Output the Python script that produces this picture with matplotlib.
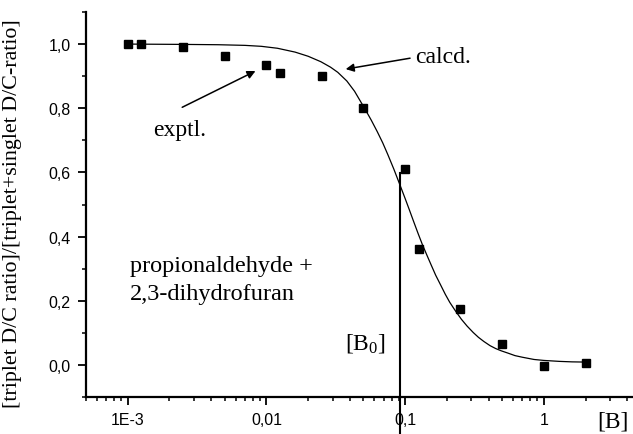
import matplotlib
matplotlib.use('Agg')
import matplotlib.pyplot as plt
from matplotlib.ticker import FixedLocator, LogLocator, MultipleLocator, NullFormatter

plt.rcParams['mathtext.fontset'] = 'custom'
plt.rcParams['mathtext.rm'] = 'Liberation Serif'
plt.rcParams['mathtext.it'] = 'Liberation Serif:italic'

SANS = 'Liberation Sans'
SERIF = 'Liberation Serif'

# measured D/C ratios vs. alkene concentration [B]
b_conc = [0.001, 0.00125, 0.0025, 0.005, 0.01, 0.0125, 0.025, 0.05,
          0.1, 0.125, 0.25, 0.5, 1.0, 2.0]
ratio_exp = [1.0, 0.999, 0.99, 0.963, 0.935, 0.91, 0.90, 0.80,
             0.61, 0.36, 0.174, 0.065, -0.003, 0.006]

# calculated curve
calc_x = [0.001, 0.0025, 0.0045, 0.007, 0.0092, 0.012, 0.0161, 0.02,
          0.0247, 0.029, 0.0327, 0.038, 0.0432, 0.051, 0.057, 0.063,
          0.069, 0.075, 0.083, 0.092, 0.1, 0.107, 0.115, 0.124, 0.133,
          0.143, 0.154, 0.166, 0.18, 0.195, 0.21, 0.231, 0.255, 0.28,
          0.31, 0.338, 0.37, 0.41, 0.45, 0.493, 0.55, 0.62, 0.7, 0.85,
          1.0, 1.3, 1.6, 1.9]
calc_y = [1.0, 0.999, 0.998, 0.996, 0.993, 0.987, 0.975, 0.962,
          0.945, 0.928, 0.912, 0.885, 0.853, 0.80, 0.763, 0.727,
          0.692, 0.656, 0.61, 0.56, 0.519, 0.485, 0.448, 0.41, 0.376,
          0.344, 0.312, 0.28, 0.25, 0.22, 0.195, 0.168, 0.142, 0.121,
          0.101, 0.086, 0.073, 0.06, 0.051, 0.044, 0.037, 0.029, 0.024, 0.017,
          0.014, 0.011, 0.0095, 0.009]

b0 = 0.092
b0_top = 0.597

x_major = [1e-3, 1e-2, 1e-1, 1.0]
x_labels = ['1E-3', '0,01', '0,1', '1']
y_major = [0.0, 0.2, 0.4, 0.6, 0.8, 1.0]
y_labels = ['0,0', '0,2', '0,4', '0,6', '0,8', '1,0']

fig = plt.figure(figsize=(6.33, 4.35), dpi=100, facecolor='w')
ax = fig.add_axes([86 / 633, 37 / 435, 547 / 633, 385 / 435])

ax.plot(calc_x, calc_y, color='k', lw=0.9, solid_joinstyle='round')
ax.plot(b_conc, ratio_exp, 's', color='k', ms=5.5, ls='none')
ax.plot([b0, b0], [-0.22, b0_top], color='k', lw=1.5, clip_on=False)

ax.set_xscale('log')
ax.set_xlim(5e-4, 4.4)
ax.set_ylim(-0.1, 1.1)

ax.xaxis.set_major_locator(FixedLocator(x_major))
ax.set_xticklabels(x_labels)
ax.xaxis.set_minor_locator(LogLocator(base=10, subs=range(2, 10), numticks=20))
ax.xaxis.set_minor_formatter(NullFormatter())
ax.set_yticks(y_major)
ax.set_yticklabels(y_labels)
ax.yaxis.set_minor_locator(MultipleLocator(0.1))

for s in ['top', 'right']:
    ax.spines[s].set_visible(False)
for s in ['left', 'bottom']:
    ax.spines[s].set_linewidth(1.6)

ax.tick_params(which='major', direction='out', length=6, width=1.3,
               labelsize=11.5, pad=5)
ax.tick_params(which='minor', direction='out', length=3, width=1.1)
for lab in ax.get_xticklabels() + ax.get_yticklabels():
    lab.set_fontfamily(SANS)

ax.set_ylabel('[triplet D/C ratio]/[triplet+singlet D/C-ratio]',
              fontfamily=SERIF, fontsize=15.8)
ax.yaxis.set_label_coords(-0.117, 0.478)

# annotations
arrow = dict(arrowstyle='-|>', color='k', lw=1.1, mutation_scale=12,
             shrinkA=0, shrinkB=0)
ax.annotate('', xy=(0.0373, 0.922), xytext=(0.1086, 0.956), arrowprops=arrow)
ax.text(0.118, 0.9625, 'calcd.', fontfamily=SERIF, fontsize=17,
        ha='left', va='center')
ax.annotate('', xy=(0.00834, 0.916), xytext=(0.00247, 0.803), arrowprops=arrow)
ax.text(0.00235, 0.735, 'exptl.', fontfamily=SERIF, fontsize=17,
        ha='center', va='center')

ax.text(0.00103, 0.294, 'propionaldehyde +', fontfamily=SERIF, fontsize=17.5,
        ha='left', va='baseline')
ax.text(0.00103, 0.206, '2,3-dihydrofuran', fontfamily=SERIF, fontsize=17.5,
        ha='left', va='baseline')

ax.text(0.0367, 0.05, r'[B$_\mathrm{0}$]', fontfamily=SERIF, fontsize=17,
        ha='left', va='baseline')
fig.text(597 / 633, 7 / 435, '[B]', fontfamily=SERIF, fontsize=17,
         ha='left', va='baseline')

fig.savefig('out.png', dpi=100)
